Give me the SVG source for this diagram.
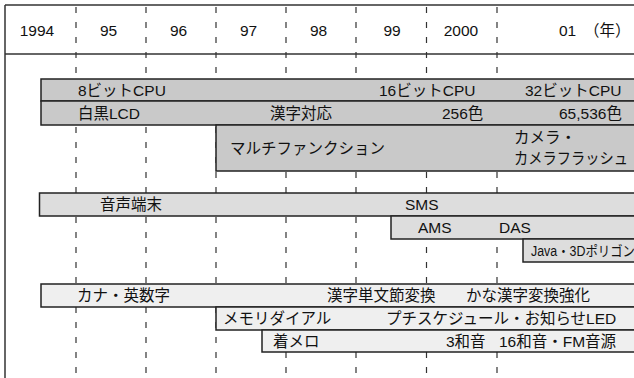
<svg xmlns="http://www.w3.org/2000/svg" width="634" height="378" viewBox="0 0 634 378">
<style>
text{font-family:"Liberation Sans","Noto Sans CJK JP",sans-serif;font-size:15.5px;fill:#111}
.hd{text-anchor:middle}
.frame{stroke:#333;stroke-width:1.5;fill:none}
.grid line{stroke:#333;stroke-width:1.2;stroke-dasharray:6 9}
.bar{stroke:#222;stroke-width:1.5}
.g1{fill:#c9c9c9}
.g2{fill:#dddddd}
.g3{fill:#efefef}
</style>
<rect width="634" height="378" fill="#fff"/>
<g id="grid" class="grid">
<line x1="76" y1="7" x2="76" y2="378"/>
<line x1="146" y1="7" x2="146" y2="378"/>
<line x1="216" y1="7" x2="216" y2="378"/>
<line x1="286" y1="7" x2="286" y2="378"/>
<line x1="356" y1="7" x2="356" y2="378"/>
<line x1="426.5" y1="7" x2="426.5" y2="378"/>
<line x1="497" y1="7" x2="497" y2="378"/>
</g>
<g id="frame">
<line class="frame" x1="5" y1="5" x2="634" y2="5"/>
<line class="frame" x1="5" y1="54" x2="634" y2="54"/>
<line class="frame" x1="5" y1="5" x2="5" y2="378"/>
</g>
<g id="header">
<text class="hd" x="37" y="36">1994</text>
<text class="hd" x="108.5" y="36">95</text>
<text class="hd" x="178.5" y="36">96</text>
<text class="hd" x="248.5" y="36">97</text>
<text class="hd" x="318.5" y="36">98</text>
<text class="hd" x="392" y="36">99</text>
<text class="hd" x="461" y="36">2000</text>
<text x="559" y="36">01</text>
<text x="584" y="36">（年）</text>
</g>
<g id="connectors"></g>
<g id="cpu">
<rect class="bar g1" x="41" y="79" width="600" height="22"/>
<text x="78" y="96">8ビットCPU</text>
<text x="379" y="96">16ビットCPU</text>
<text x="525" y="96">32ビットCPU</text>
</g>
<g id="lcd">
<rect class="bar g1" x="41" y="101" width="600" height="24"/>
<text x="78" y="119">白黒LCD</text>
<text x="270" y="119">漢字対応</text>
<text x="442" y="119">256色</text>
<text x="559" y="119">65,536色</text>
</g>
<g id="multi">
<rect class="bar g1" x="216" y="125" width="425" height="46"/>
<text x="230" y="154">マルチファンクション</text>
<text x="514" y="143">カメラ・</text>
<text x="514" y="164" textLength="114" lengthAdjust="spacingAndGlyphs">カメラフラッシュ</text>
</g>
<g id="voice">
<rect class="bar g2" x="39.5" y="193" width="601" height="23"/>
<text x="100" y="210">音声端末</text>
<text x="405" y="210">SMS</text>
</g>
<g id="ams">
<rect class="bar g2" x="391" y="216" width="250" height="23"/>
<text x="418" y="233">AMS</text>
<text x="499" y="233">DAS</text>
</g>
<g id="java">
<rect class="bar g2" x="523" y="239" width="118" height="23"/>
<text x="531" y="256" textLength="104" lengthAdjust="spacingAndGlyphs" style="font-size:14px">Java・3Dポリゴン</text>
</g>
<g id="kana">
<rect class="bar g3" x="41" y="284" width="600" height="23"/>
<text x="77" y="301">カナ・英数字</text>
<text x="327" y="301">漢字単文節変換</text>
<text x="466" y="301">かな漢字変換強化</text>
</g>
<g id="memory">
<rect class="bar g3" x="216" y="307" width="425" height="23"/>
<text x="223" y="324">メモリダイアル</text>
<text x="386" y="324">プチスケジュール・お知らせLED</text>
</g>
<g id="melody">
<rect class="bar g3" x="262" y="330" width="379" height="22"/>
<text x="273" y="347">着メロ</text>
<text x="446" y="347">3和音</text>
<text x="499" y="347">16和音・FM音源</text>
</g>
</svg>
